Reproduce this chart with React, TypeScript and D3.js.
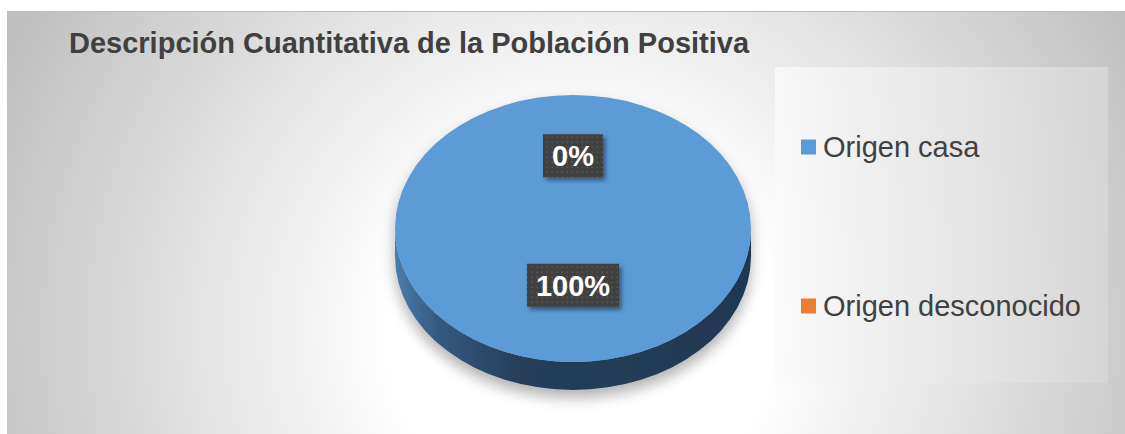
import React from "react";
import * as d3 from "d3";

const categories = ["Origen casa", "Origen desconocido"];
const values = [100, 0];
const colors = ["#5b9bd5", "#ed7d31"];
const title = "Descripción Cuantitativa de la Población Positiva";

const W = 1125;
const H = 434;
const FONT = "'Liberation Sans', Arial, Helvetica, sans-serif";

// approximate Arial Bold advance widths (em) for label sizing
const boldW: Record<string, number> = { "0": 0.556, "1": 0.556, "2": 0.556, "3": 0.556, "4": 0.556, "5": 0.556, "6": 0.556, "7": 0.556, "8": 0.556, "9": 0.556, "%": 0.889, ".": 0.278 };

export default function App() {
  const cx = 573;
  const cy = 228.5;
  const rx = 178;
  const ry = 133.5;
  const depth = 28;

  const total = d3.sum(values);
  const pie = d3.pie<number>().sort(null).startAngle(0).endAngle(2 * Math.PI);
  const slices = pie(values);
  const arc = d3.arc<d3.PieArcDatum<number>>().innerRadius(0).outerRadius(rx);
  const fmt = d3.format(".0%");

  const sidePath = `M${cx - rx},${cy} A${rx},${ry} 0 0 0 ${cx + rx},${cy} L${cx + rx},${cy + depth} A${rx},${ry} 0 0 1 ${cx - rx},${cy + depth} Z`;

  const legendY = d3.scalePoint<string>().domain(categories).range([147, 306]);
  const labelFs = 29;

  return (
    <svg width={W} height={H} style={{ position: "absolute", left: 0, top: 0 }} xmlns="http://www.w3.org/2000/svg">
      <defs>
        <radialGradient id="bg" gradientUnits="userSpaceOnUse" cx={580} cy={330} r={630}>
          <stop offset="0" stopColor="#ffffff" />
          <stop offset="0.3" stopColor="#ffffff" />
          <stop offset="1" stopColor="#c0c0c0" />
        </radialGradient>
        <linearGradient id="legbg" x1="0" y1="0" x2="1" y2="0">
          <stop offset="0" stopColor="#fafafa" />
          <stop offset="1" stopColor="#d7d7d7" />
        </linearGradient>
        <linearGradient id="side" gradientUnits="userSpaceOnUse" x1={cx - rx} y1="0" x2={cx + rx} y2="0">
          <stop offset="0" stopColor="#4c7cab" />
          <stop offset="0.12" stopColor="#34597f" />
          <stop offset="0.35" stopColor="#253f5b" />
          <stop offset="1" stopColor="#1f3852" />
        </linearGradient>
        <filter id="pieShadow" x="-20%" y="-20%" width="140%" height="150%">
          <feDropShadow dx="0" dy="8" stdDeviation="7" floodColor="#000" floodOpacity="0.3" />
        </filter>
        <filter id="boxShadow" x="-20%" y="-30%" width="150%" height="170%">
          <feDropShadow dx="2.5" dy="3" stdDeviation="2" floodColor="#000" floodOpacity="0.45" />
        </filter>
        <pattern id="dots" width="5" height="5" patternUnits="userSpaceOnUse">
          <rect width="5" height="5" fill="#404040" />
          <rect x="1.5" y="1.5" width="1.5" height="1.5" fill="#585858" />
        </pattern>
      </defs>

      {/* chart area */}
      <rect x={7} y={11} width={W - 7} height={H - 11} fill="url(#bg)" />
      <line x1={7} x2={W} y1={11.5} y2={11.5} stroke="#bdbdbd" strokeWidth={1} />

      {/* title */}
      <text x={69} y={53} fontFamily={FONT} fontWeight="bold" fontSize={29} fill="#404040">
        {title}
      </text>

      {/* legend box */}
      <rect x={775} y={67} width={333} height={316} fill="url(#legbg)" opacity={0.85} />

      {/* pie */}
      <g filter="url(#pieShadow)">
        <path d={sidePath} fill="url(#side)" />
        <g transform={`translate(${cx},${cy}) scale(1,${ry / rx})`}>
          {slices.map((s, i) => (
            <path key={i} d={arc(s) || ""} fill={colors[i]} />
          ))}
        </g>
      </g>

      {/* data labels */}
      {slices.map((s, i) => {
        const a = (s.startAngle + s.endAngle) / 2;
        const f = 0.485 + 0.06 * Math.cos(a);
        const lx = cx + Math.sin(a) * f * rx;
        const ly = cy - Math.cos(a) * f * ry;
        const txt = fmt(values[i] / total);
        const tw = txt.split("").reduce((acc, ch) => acc + (boldW[ch] ?? 0.556), 0) * labelFs;
        const bw = tw + 18;
        const bh = 43;
        return (
          <g key={i}>
            <rect x={lx - bw / 2} y={ly - bh / 2} width={bw} height={bh} fill="url(#dots)" filter="url(#boxShadow)" />
            <text x={lx} y={ly + 10.5} textAnchor="middle" fontFamily={FONT} fontWeight="bold" fontSize={labelFs} fill="#ffffff">
              {txt}
            </text>
          </g>
        );
      })}

      {/* legend */}
      {categories.map((c, i) => {
        const y = legendY(c) as number;
        return (
          <g key={c}>
            <rect x={801} y={y - 7.5} width={15} height={15} fill={colors[i]} />
            <text x={823} y={y + 10} fontFamily={FONT} fontSize={29} fill="#404040">
              {c}
            </text>
          </g>
        );
      })}
    </svg>
  );
}
